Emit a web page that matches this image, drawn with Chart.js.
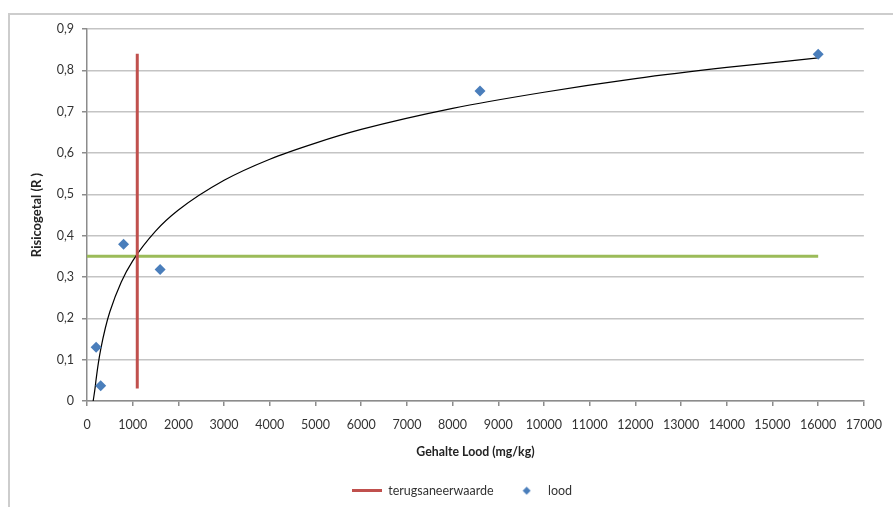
<!DOCTYPE html>
<html lang="nl">
<head>
    <meta charset="UTF-8">
    <title>Risicogetal lood</title>
    <script src="https://cdn.jsdelivr.net/npm/chart.js"></script>
    <style>
        html, body {
            margin: 0;
            padding: 0;
            background: #fff;
            overflow: hidden;
        }
        .wrap {
            position: relative;
            width: 893px;
            height: 507px;
        }
        .frame {
            position: absolute;
            left: 8px;
            top: 13px;
            width: 920px;
            height: 540px;
            border: 2px solid #cdcdcd;
            pointer-events: none;
        }
    </style>
</head>
<body>
    <div class="wrap">
        <canvas id="myChart"></canvas>
        <div class="frame"></div>
    </div>

    <script>
        // meetpunten lood
        const loodX = [200, 300, 800, 1600, 8600, 16000];
        const loodY = [0.13, 0.037, 0.379, 0.318, 0.75, 0.839];

        // logaritmische trendlijn
        const trendX = [135, 175, 200, 250, 300, 400, 500, 750, 1000, 1500, 2000, 3000, 4000, 5000, 6000, 8000, 10000, 12000, 14000, 16000];
        const trendY = [0.0, 0.03, 0.053, 0.093, 0.125, 0.176, 0.216, 0.288, 0.339, 0.411, 0.462, 0.534, 0.585, 0.624, 0.657, 0.708, 0.747, 0.78, 0.807, 0.83];

        // terugsaneerwaarde (verticale lijn) en norm R (horizontale lijn)
        const terugX = [1100, 1100];
        const terugY = [0.03, 0.84];
        const normX = [0, 16000];
        const normY = [0.35, 0.35];

        const xMin = 0, xMax = 17000, xStep = 1000;
        const yMin = 0, yMax = 0.9, yStep = 0.1;

        const toPoints = (xs, ys) => xs.map((x, i) => ({ x: x, y: ys[i] }));
        const fam = 'Lato, "Open Sans", sans-serif';

        // kleine symbolen voor de legenda
        function legendLine(color) {
            const c = document.createElement('canvas');
            c.width = 30; c.height = 3;
            const g = c.getContext('2d');
            g.fillStyle = color;
            g.fillRect(0, 0, 30, 3);
            return c;
        }
        function legendDiamond(color) {
            const c = document.createElement('canvas');
            c.width = 9; c.height = 9;
            const g = c.getContext('2d');
            g.fillStyle = color;
            g.beginPath();
            g.moveTo(4.5, 0.5); g.lineTo(8.5, 4.5); g.lineTo(4.5, 8.5); g.lineTo(0.5, 4.5);
            g.closePath();
            g.fill();
            return c;
        }
        const legendIcons = [legendLine('#c0504d'), legendDiamond('#4a7ebb')];

        // legenda iets naar rechts, zoals in het origineel
        const shiftLegend = {
            id: 'shiftLegend',
            afterLayout(chart) {
                chart.legend.left += 17;
                chart.legend.right += 17;
            }
        };

        const ctx = document.getElementById('myChart').getContext('2d');
        new Chart(ctx, {
            type: 'scatter',
            data: {
                datasets: [
                    {
                        label: 'terugsaneerwaarde',
                        data: toPoints(terugX, terugY),
                        showLine: true,
                        borderColor: '#c0504d',
                        backgroundColor: '#c0504d',
                        borderWidth: 3,
                        pointRadius: 0
                    },
                    {
                        label: 'lood',
                        data: toPoints(loodX, loodY),
                        pointStyle: 'rectRot',
                        pointRadius: 5.5,
                        backgroundColor: '#4a7ebb',
                        borderColor: '#4a7ebb',
                        borderWidth: 0
                    },
                    {
                        label: 'trend',
                        data: toPoints(trendX, trendY),
                        showLine: true,
                        borderColor: '#000',
                        borderWidth: 1.2,
                        pointRadius: 0,
                        cubicInterpolationMode: 'monotone'
                    },
                    {
                        label: 'norm',
                        data: toPoints(normX, normY),
                        showLine: true,
                        borderColor: '#9bbb59',
                        borderWidth: 3,
                        pointRadius: 0
                    }
                ]
            },
            options: {
                responsive: true,
                maintainAspectRatio: false,
                animation: false,
                layout: {
                    padding: { left: 25, right: 28, top: 29, bottom: 0 }
                },
                scales: {
                    x: {
                        type: 'linear',
                        min: xMin,
                        max: xMax,
                        ticks: {
                            stepSize: xStep,
                            color: '#333',
                            font: { family: fam, size: 12.5 },
                            padding: 11,
                            maxRotation: 0,
                            callback: v => String(v)
                        },
                        grid: {
                            drawOnChartArea: false,
                            tickLength: 5,
                            tickColor: '#8c8c8c',
                            lineWidth: 1.5
                        },
                        border: { color: '#8c8c8c', width: 1.5 },
                        title: {
                            display: true,
                            text: 'Gehalte Lood (mg/kg)',
                            color: '#222',
                            font: { family: fam, size: 12.3, weight: 'bold' },
                            padding: { top: 4, bottom: 7 }
                        },
                        afterFit: s => { s.height = 65.5; }
                    },
                    y: {
                        min: yMin,
                        max: yMax,
                        ticks: {
                            stepSize: yStep,
                            color: '#333',
                            font: { family: fam, size: 12.5 },
                            padding: 8,
                            callback: v => v === 0 ? '0' : v.toFixed(1).replace('.', ',')
                        },
                        grid: {
                            color: '#c4c4c4',
                            lineWidth: 1.5,
                            tickLength: 5,
                            tickColor: '#8c8c8c'
                        },
                        border: { color: '#8c8c8c', width: 1.5 },
                        title: {
                            display: true,
                            text: 'Risicogetal (R )',
                            color: '#222',
                            font: { family: fam, size: 13, weight: 'bold' },
                            padding: { top: 4, bottom: 4 }
                        },
                        afterFit: s => { s.width = 62; }
                    }
                },
                plugins: {
                    legend: {
                        position: 'bottom',
                        labels: {
                            usePointStyle: true,
                            pointStyleWidth: 30,
                            padding: 18,
                            color: '#333',
                            font: { family: fam, size: 12.5 },
                            filter: item => item.datasetIndex < 2,
                            generateLabels: chart => {
                                const items = Chart.defaults.plugins.legend.labels.generateLabels(chart);
                                items.forEach(it => {
                                    if (legendIcons[it.datasetIndex]) it.pointStyle = legendIcons[it.datasetIndex];
                                });
                                return items;
                            }
                        }
                    },
                    tooltip: { enabled: false }
                }
            },
            plugins: [shiftLegend]
        });
    </script>
</body>
</html>
